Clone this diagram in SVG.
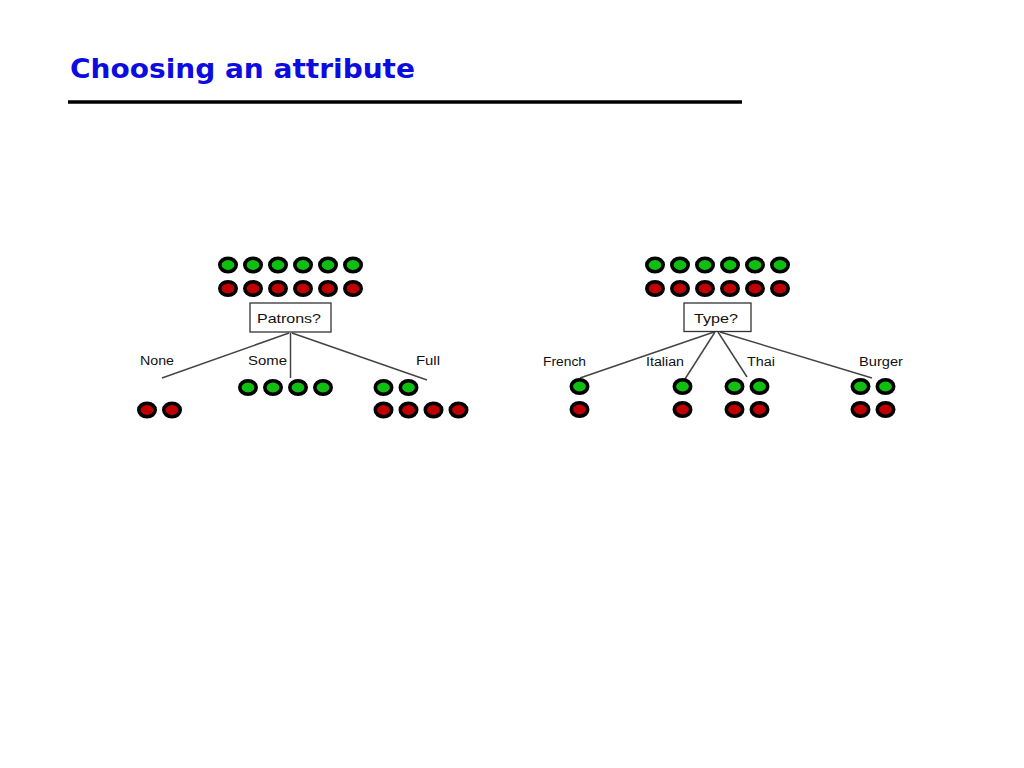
<svg xmlns="http://www.w3.org/2000/svg" width="1024" height="768" viewBox="0 0 1024 768">
<style>
.title{font-family:"DejaVu Sans",Verdana,sans-serif;font-weight:bold;font-size:27px;fill:#0c0ce0}
.lbl{font-family:"Liberation Sans",Arial,sans-serif;font-size:12px;fill:#111}
.box{fill:#fff;stroke:#333;stroke-width:1.3}
.edge{stroke:#444;stroke-width:1.5;fill:none}
.g{fill:#10c010;stroke:#000;stroke-width:3.6}
.r{fill:#c00000;stroke:#000;stroke-width:3.6}
</style>
<defs>
<ellipse id="gc" class="g" cx="0" cy="0" rx="8.2" ry="6.7"/>
<ellipse id="rc" class="r" cx="0" cy="0" rx="8.2" ry="6.7"/>
</defs>
<rect width="1024" height="768" fill="#fff"/>
<text class="title" x="70" y="78" textLength="345" lengthAdjust="spacingAndGlyphs">Choosing an attribute</text>
<line x1="68" y1="102" x2="742" y2="102" stroke="#000" stroke-width="3.5"/>

<g id="connectors">
<line class="edge" x1="289" y1="333" x2="162" y2="378"/>
<line class="edge" x1="290.5" y1="333" x2="290.5" y2="378"/>
<line class="edge" x1="292" y1="333" x2="427" y2="380"/>
<line class="edge" x1="714" y1="332" x2="580" y2="378"/>
<line class="edge" x1="715" y1="332" x2="685" y2="379"/>
<line class="edge" x1="718" y1="332" x2="747" y2="377"/>
<line class="edge" x1="720" y1="332" x2="872" y2="378"/>
</g>

<g id="patrons-root">
<use href="#gc" x="228" y="265"/><use href="#gc" x="253" y="265"/><use href="#gc" x="278" y="265"/><use href="#gc" x="303" y="265"/><use href="#gc" x="328" y="265"/><use href="#gc" x="353" y="265"/>
<use href="#rc" x="228" y="288.5"/><use href="#rc" x="253" y="288.5"/><use href="#rc" x="278" y="288.5"/><use href="#rc" x="303" y="288.5"/><use href="#rc" x="328" y="288.5"/><use href="#rc" x="353" y="288.5"/>
</g>
<g id="patrons">
<rect class="box" x="250" y="303" width="81" height="29"/>
<text class="lbl" x="257" y="322.5" style="font-size:13px" textLength="64" lengthAdjust="spacingAndGlyphs">Patrons?</text>
</g>
<g id="none">
<text class="lbl" x="140" y="364.5" textLength="34" lengthAdjust="spacingAndGlyphs">None</text>
<use href="#rc" x="147" y="410"/><use href="#rc" x="172" y="410"/>
</g>
<g id="some">
<text class="lbl" x="248" y="364.5" textLength="39" lengthAdjust="spacingAndGlyphs">Some</text>
<use href="#gc" x="248" y="387.5"/><use href="#gc" x="273" y="387.5"/><use href="#gc" x="298" y="387.5"/><use href="#gc" x="323" y="387.5"/>
</g>
<g id="full">
<text class="lbl" x="416" y="364.5" textLength="24" lengthAdjust="spacingAndGlyphs">Full</text>
<use href="#gc" x="383.5" y="387.5"/><use href="#gc" x="408.5" y="387.5"/>
<use href="#rc" x="383.5" y="410"/><use href="#rc" x="408.5" y="410"/><use href="#rc" x="433.5" y="410"/><use href="#rc" x="458.5" y="410"/>
</g>

<g id="type-root">
<use href="#gc" x="655" y="265"/><use href="#gc" x="680" y="265"/><use href="#gc" x="705" y="265"/><use href="#gc" x="730" y="265"/><use href="#gc" x="755" y="265"/><use href="#gc" x="780" y="265"/>
<use href="#rc" x="655" y="288.5"/><use href="#rc" x="680" y="288.5"/><use href="#rc" x="705" y="288.5"/><use href="#rc" x="730" y="288.5"/><use href="#rc" x="755" y="288.5"/><use href="#rc" x="780" y="288.5"/>
</g>
<g id="type">
<rect class="box" x="684" y="303" width="67" height="28.5"/>
<text class="lbl" x="694" y="322.5" style="font-size:13px" textLength="44" lengthAdjust="spacingAndGlyphs">Type?</text>
</g>
<g id="french">
<text class="lbl" x="543" y="365.5" textLength="43" lengthAdjust="spacingAndGlyphs">French</text>
<use href="#gc" x="579.5" y="386.5"/><use href="#rc" x="579.5" y="409.5"/>
</g>
<g id="italian">
<text class="lbl" x="646" y="365.5" textLength="38" lengthAdjust="spacingAndGlyphs">Italian</text>
<use href="#gc" x="682.5" y="386.5"/><use href="#rc" x="682.5" y="409.5"/>
</g>
<g id="thai">
<text class="lbl" x="747" y="365.5" textLength="28" lengthAdjust="spacingAndGlyphs">Thai</text>
<use href="#gc" x="734.5" y="386.5"/><use href="#gc" x="759.5" y="386.5"/>
<use href="#rc" x="734.5" y="409.5"/><use href="#rc" x="759.5" y="409.5"/>
</g>
<g id="burger">
<text class="lbl" x="859" y="365.5" textLength="44" lengthAdjust="spacingAndGlyphs">Burger</text>
<use href="#gc" x="860.5" y="386.5"/><use href="#gc" x="885.5" y="386.5"/>
<use href="#rc" x="860.5" y="409.5"/><use href="#rc" x="885.5" y="409.5"/>
</g>
</svg>
